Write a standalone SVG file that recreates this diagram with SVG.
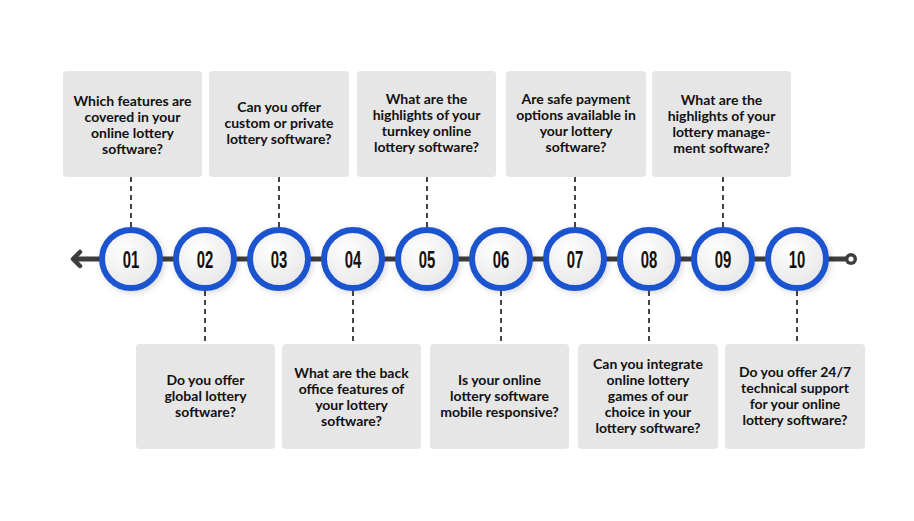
<svg xmlns="http://www.w3.org/2000/svg" width="914" height="521" viewBox="0 0 914 521">
<defs>
<radialGradient id="cg" cx="0.4" cy="0.35" r="0.75">
<stop offset="0" stop-color="#ffffff"/>
<stop offset="1" stop-color="#e4e4e6"/>
</radialGradient>
<filter id="sh" x="-30%" y="-30%" width="160%" height="160%">
<feDropShadow dx="2" dy="2" stdDeviation="3" flood-color="#000" flood-opacity="0.15"/>
</filter>
</defs>
<style>
.box{fill:#e6e6e6}
.q{font-family:"Lato","Liberation Sans",sans-serif;font-weight:700;font-size:14px;fill:#111;text-anchor:middle}
.dash{stroke:#444;stroke-width:2;stroke-dasharray:5 4;fill:none}
.ring{fill:url(#cg);stroke:#1b52cf;stroke-width:6}
.num{font-family:"Liberation Sans","Arial",sans-serif;font-weight:700;font-size:24px;fill:#111;text-anchor:middle}
</style>
<rect width="914" height="521" fill="#ffffff"/>
<g id="connectors">
<line x1="74" y1="259" x2="847" y2="259" stroke="#3d3d3d" stroke-width="5"/>
<polyline points="80,252 73,259 80,266" fill="none" stroke="#3d3d3d" stroke-width="4.5" stroke-linecap="round" stroke-linejoin="round"/>
<circle cx="851" cy="259" r="6" fill="#3d3d3d"/>
<circle cx="851" cy="259" r="2.6" fill="#ffffff"/>
<line class="dash" x1="131" y1="177" x2="131" y2="228"/>
<line class="dash" x1="279" y1="177" x2="279" y2="228"/>
<line class="dash" x1="427" y1="177" x2="427" y2="228"/>
<line class="dash" x1="575" y1="177" x2="575" y2="228"/>
<line class="dash" x1="723" y1="177" x2="723" y2="228"/>
<line class="dash" x1="205" y1="291" x2="205" y2="344"/>
<line class="dash" x1="353" y1="291" x2="353" y2="344"/>
<line class="dash" x1="501" y1="291" x2="501" y2="344"/>
<line class="dash" x1="649" y1="291" x2="649" y2="344"/>
<line class="dash" x1="797" y1="291" x2="797" y2="344"/>
</g>
<g id="n01"><circle class="ring" cx="131" cy="259" r="29" filter="url(#sh)"/><text class="num" transform="translate(131 267.5) scale(0.62 1)">01</text></g>
<g id="n02"><circle class="ring" cx="205" cy="259" r="29" filter="url(#sh)"/><text class="num" transform="translate(205 267.5) scale(0.62 1)">02</text></g>
<g id="n03"><circle class="ring" cx="279" cy="259" r="29" filter="url(#sh)"/><text class="num" transform="translate(279 267.5) scale(0.62 1)">03</text></g>
<g id="n04"><circle class="ring" cx="353" cy="259" r="29" filter="url(#sh)"/><text class="num" transform="translate(353 267.5) scale(0.62 1)">04</text></g>
<g id="n05"><circle class="ring" cx="427" cy="259" r="29" filter="url(#sh)"/><text class="num" transform="translate(427 267.5) scale(0.62 1)">05</text></g>
<g id="n06"><circle class="ring" cx="501" cy="259" r="29" filter="url(#sh)"/><text class="num" transform="translate(501 267.5) scale(0.62 1)">06</text></g>
<g id="n07"><circle class="ring" cx="575" cy="259" r="29" filter="url(#sh)"/><text class="num" transform="translate(575 267.5) scale(0.62 1)">07</text></g>
<g id="n08"><circle class="ring" cx="649" cy="259" r="29" filter="url(#sh)"/><text class="num" transform="translate(649 267.5) scale(0.62 1)">08</text></g>
<g id="n09"><circle class="ring" cx="723" cy="259" r="29" filter="url(#sh)"/><text class="num" transform="translate(723 267.5) scale(0.62 1)">09</text></g>
<g id="n10"><circle class="ring" cx="797" cy="259" r="29" filter="url(#sh)"/><text class="num" transform="translate(797 267.5) scale(0.62 1)">10</text></g>

<g id="q01"><rect class="box" x="63" y="71" width="139" height="106" rx="4"/>
<text class="q"><tspan x="132.5" y="106">Which features are</tspan><tspan x="132.5" y="122">covered in your</tspan><tspan x="132.5" y="138">online lottery</tspan><tspan x="132.5" y="154">software?</tspan></text></g>
<g id="q03"><rect class="box" x="209" y="71" width="140" height="106" rx="4"/>
<text class="q"><tspan x="279" y="112">Can you offer</tspan><tspan x="279" y="128">custom or private</tspan><tspan x="279" y="144">lottery software?</tspan></text></g>
<g id="q05"><rect class="box" x="357" y="71" width="139" height="106" rx="4"/>
<text class="q"><tspan x="426.5" y="104">What are the</tspan><tspan x="426.5" y="120">highlights of your</tspan><tspan x="426.5" y="136">turnkey online</tspan><tspan x="426.5" y="152">lottery software?</tspan></text></g>
<g id="q07"><rect class="box" x="506" y="71" width="140" height="106" rx="4"/>
<text class="q"><tspan x="576" y="104">Are safe payment</tspan><tspan x="576" y="120">options available in</tspan><tspan x="576" y="136">your lottery</tspan><tspan x="576" y="152">software?</tspan></text></g>
<g id="q09"><rect class="box" x="652" y="71" width="139" height="106" rx="4"/>
<text class="q"><tspan x="721.5" y="105">What are the</tspan><tspan x="721.5" y="121">highlights of your</tspan><tspan x="721.5" y="137">lottery manage-</tspan><tspan x="721.5" y="153">ment software?</tspan></text></g>

<g id="q02"><rect class="box" x="136" y="344" width="139" height="105" rx="4"/>
<text class="q"><tspan x="205.5" y="385">Do you offer</tspan><tspan x="205.5" y="401">global lottery</tspan><tspan x="205.5" y="417">software?</tspan></text></g>
<g id="q04"><rect class="box" x="282" y="344" width="139" height="105" rx="4"/>
<text class="q"><tspan x="351.5" y="378">What are the back</tspan><tspan x="351.5" y="394">office features of</tspan><tspan x="351.5" y="410">your lottery</tspan><tspan x="351.5" y="426">software?</tspan></text></g>
<g id="q06"><rect class="box" x="430" y="344" width="139" height="105" rx="4"/>
<text class="q"><tspan x="499.5" y="385">Is your online</tspan><tspan x="499.5" y="401">lottery software</tspan><tspan x="499.5" y="417">mobile responsive?</tspan></text></g>
<g id="q08"><rect class="box" x="578" y="344" width="140" height="105" rx="4"/>
<text class="q"><tspan x="648" y="369">Can you integrate</tspan><tspan x="648" y="385">online lottery</tspan><tspan x="648" y="401">games of our</tspan><tspan x="648" y="417">choice in your</tspan><tspan x="648" y="433">lottery software?</tspan></text></g>
<g id="q10"><rect class="box" x="725" y="344" width="140" height="105" rx="4"/>
<text class="q"><tspan x="795" y="377">Do you offer 24/7</tspan><tspan x="795" y="393">technical support</tspan><tspan x="795" y="409">for your online</tspan><tspan x="795" y="425">lottery software?</tspan></text></g>
</svg>
